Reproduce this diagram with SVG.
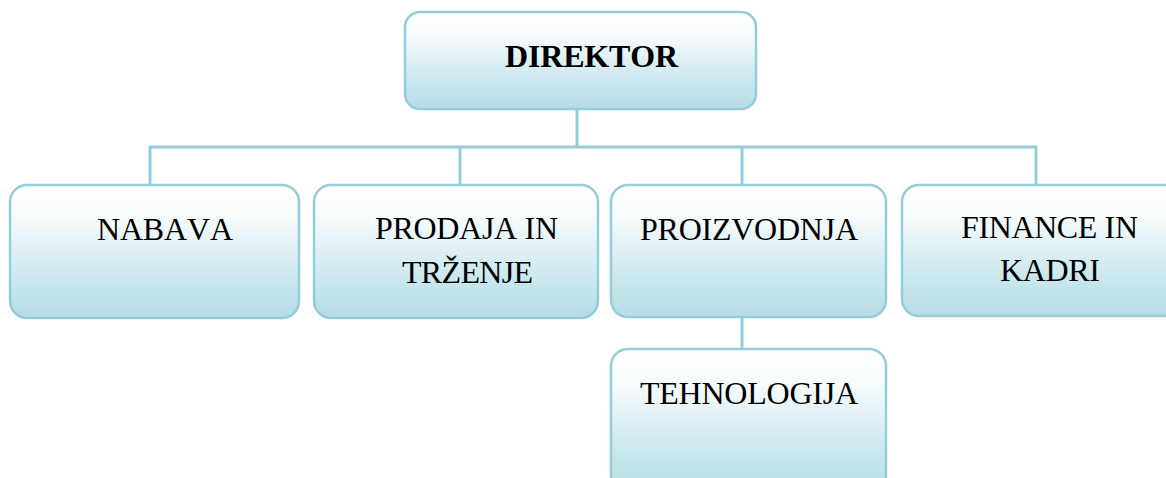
<svg xmlns="http://www.w3.org/2000/svg" width="1166" height="478" viewBox="0 0 1166 478">
  <defs>
    <linearGradient id="g" x1="0" y1="0" x2="0" y2="1">
      <stop offset="0" stop-color="#ffffff"/>
      <stop offset="0.25" stop-color="#f6fbfc"/>
      <stop offset="0.75" stop-color="#c6e5ed"/>
      <stop offset="1" stop-color="#b6dce6"/>
    </linearGradient>
  </defs>
  <style>
    .box { fill: url(#g); stroke: #93cddb; stroke-width: 2.5; }
    .conn { stroke: #93cddb; stroke-width: 3; fill: none; }
    .t { font-family: "Liberation Serif", "Times New Roman", serif; font-size: 32px; fill: #000; font-kerning: none; }
    .b { font-weight: bold; }
  </style>
  <rect width="1166" height="478" fill="#ffffff"/>
  <g id="connectors">
    <path class="conn" d="M577 109 V147"/>
    <path class="conn" d="M150 185 V147 H1036 V185"/>
    <path class="conn" d="M460 147 V185"/>
    <path class="conn" d="M742 147 V185"/>
    <path class="conn" d="M742 317 V349"/>
  </g>
  <g id="direktor">
    <rect class="box" x="405" y="12" width="351" height="97" rx="15"/>
    <text class="t b" x="505" y="67" textLength="173" lengthAdjust="spacing">DIREKTOR</text>
  </g>
  <g id="nabava">
    <rect class="box" x="10" y="185" width="289" height="133" rx="17"/>
    <text class="t" x="97" y="240" textLength="136" lengthAdjust="spacing">NABAVA</text>
  </g>
  <g id="prodaja">
    <rect class="box" x="314" y="185" width="284" height="133" rx="17"/>
    <text class="t" x="375" y="239" textLength="183" lengthAdjust="spacing">PRODAJA IN</text>
    <text class="t" x="402" y="283" textLength="131" lengthAdjust="spacing">TRŽENJE</text>
  </g>
  <g id="proizvodnja">
    <rect class="box" x="611" y="185" width="275" height="132" rx="17"/>
    <text class="t" x="640" y="240" textLength="218" lengthAdjust="spacing">PROIZVODNJA</text>
  </g>
  <g id="finance">
    <rect class="box" x="902" y="185" width="280" height="131" rx="17"/>
    <text class="t" x="961" y="238" textLength="177" lengthAdjust="spacing">FINANCE IN</text>
    <text class="t" x="1000" y="281" textLength="100" lengthAdjust="spacing">KADRI</text>
  </g>
  <g id="tehnologija">
    <rect class="box" x="611" y="349" width="275" height="145" rx="17"/>
    <text class="t" x="640" y="404" textLength="218" lengthAdjust="spacing">TEHNOLOGIJA</text>
  </g>
</svg>
